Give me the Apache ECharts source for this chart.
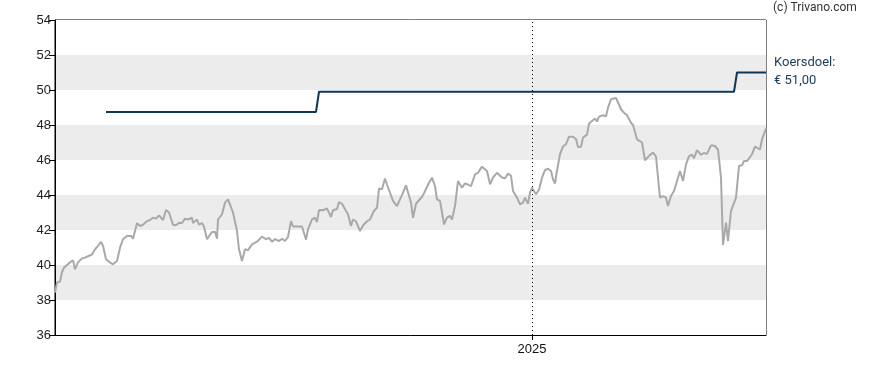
<!DOCTYPE html>
<html>
<head>
<meta charset="utf-8">
<script src="https://cdn.jsdelivr.net/npm/echarts@6/dist/echarts.min.js"></script>
<style>
html,body{margin:0;padding:0;background:#fff;}
#chart{width:888px;height:370px;}
</style>
</head>
<body>
<div id="chart"></div>
<script>
// Time range (start date + number of days shown)
const startYear = 2023, startMonth = 8, startDay = 12; // 2023-09-12
const spanDays = 711;
const yearMarkLabel = '2025';
const yearMark = [2025, 0, 1];

// Y axis ticks
const yMin = 36, yMax = 54, yStep = 2;

// Share price: days since start date, closing value (EUR)
const priceDays = [0,2,4,5,7,9,12,15,18,20,23,27,30,33,37,40,43,46,48,51,54,58,62,65,68,72,76,78,80,82,85,88,92,95,98,101,104,106,108,111,114,118,121,124,127,130,133,137,138,142,144,147,149,152,153,157,160,162,163,167,170,173,175,178,182,184,187,190,193,197,202,207,211,214,217,220,224,227,230,233,236,238,242,247,251,253,257,260,262,264,268,272,273,276,278,282,284,287,291,293,296,298,301,305,308,312,315,319,322,324,327,330,332,335,338,342,345,348,351,353,356,358,361,363,367,369,371,374,377,380,382,385,387,389,392,395,397,400,403,407,410,413,416,420,423,427,429,432,435,438,442,444,447,450,453,456,458,462,465,468,470,473,475,477,481,484,487,490,493,496,498,500,502,505,508,511,514,518,521,523,526,528,532,534,537,540,542,544,548,551,553,556,558,561,563,566,569,572,576,578,582,584,587,590,592,595,598,601,603,605,608,611,613,616,619,622,625,628,631,634,637,639,642,646,649,652,654,656,660,663,666,668,671,673,676,678,681,684,687,689,692,694,697,700,702,705,707,711];
const priceValues = [38.42,39.0,39.1,39.05,39.6,39.85,40.0,40.15,40.27,39.75,40.15,40.38,40.42,40.5,40.6,40.9,41.09,41.32,41.1,40.33,40.18,40.04,40.23,40.99,41.47,41.66,41.66,41.5,41.47,42.38,42.23,42.3,42.51,42.57,42.7,42.65,42.84,42.85,42.57,43.14,43.0,42.3,42.27,42.42,42.4,42.65,42.6,42.7,42.4,42.6,42.3,42.4,42.2,41.47,41.4,41.89,41.9,41.5,42.6,42.9,43.56,43.75,43.7,43.0,41.94,40.9,40.23,40.9,40.85,41.18,41.33,41.62,41.47,41.55,41.33,41.48,41.37,41.5,41.37,41.6,42.51,42.2,42.2,42.2,41.45,42.04,42.61,42.7,42.46,43.14,43.13,43.24,43.27,42.74,43.13,43.2,43.6,43.5,43.09,42.9,42.23,42.6,42.5,41.94,42.26,42.5,42.6,43.1,43.27,44.37,44.33,44.94,44.6,44.13,43.66,43.37,43.75,44.13,44.55,44.5,43.56,42.7,43.5,43.56,43.9,44.1,44.0,44.7,44.99,44.5,43.75,43.66,43.75,42.33,42.71,42.8,42.6,43.37,44.8,44.42,44.66,44.6,44.5,45.18,45.27,45.62,45.7,45.37,44.61,45.0,45.27,45.18,45.0,44.96,45.22,45.1,44.23,43.85,43.47,43.56,43.85,43.5,44.13,44.42,44.04,44.3,44.99,45.43,45.5,45.37,44.9,44.66,45.4,46.33,46.77,46.9,47.33,47.33,47.2,46.74,46.76,47.28,47.45,48.08,48.23,48.37,48.2,48.48,48.56,48.5,48.99,49.47,49.47,49.55,49.66,48.9,48.7,48.56,48.13,48.0,47.18,47.1,47.0,45.98,45.94,46.29,46.42,46.2,45.0,43.85,43.94,43.85,43.37,43.94,44.23,44.8,45.37,44.8,45.75,46.22,46.3,46.1,46.56,46.3,46.4,46.35,46.3,46.84,46.8,46.6,44.99,41.14,42.42,41.37,43.09,43.2,43.85,45.66,45.7,45.94,45.94,46.0,46.33,46.77,46.84,46.6,47.18,47.8];

// Analyst price target (koersdoel)
const targetDays = [51,261,264,679,682,711];
const targetValues = [48.75,48.75,49.9,49.9,51.0,51.0];

const sideTitle = '(c) Trivano.com';
const targetLabel = 'Koersdoel:';
const targetValueLabel = '€ 51,00';

const DAY = 86400000;
const t0 = new Date(startYear, startMonth, startDay).getTime();
const toTime = d => t0 + d * DAY;
const priceData = priceDays.map((d, i) => [toTime(d), priceValues[i]]);
const targetData = targetDays.map((d, i) => [toTime(d), targetValues[i]]);
const markTime = new Date(yearMark[0], yearMark[1], yearMark[2]).getTime();

const chart = echarts.init(document.getElementById('chart'), null, {renderer: 'canvas'});
chart.setOption({
  animation: false,
  backgroundColor: '#ffffff',
  grid: {left: 55, top: 20, width: 711, height: 315, show: true, borderColor: '#000', borderWidth: 1, backgroundColor: 'transparent'},
  xAxis: {
    type: 'value',
    min: t0,
    max: toTime(spanDays),
    axisLine: {show: true, lineStyle: {color: '#000', width: 1}},
    axisTick: {show: true, customValues: [markTime], length: 5, lineStyle: {color: '#000'}},
    axisLabel: {show: true, customValues: [markTime], formatter: () => yearMarkLabel, color: '#111', fontSize: 13, fontFamily: 'Liberation Sans', margin: 8},
    splitLine: {show: false}
  },
  yAxis: {
    type: 'value',
    min: yMin, max: yMax, interval: yStep,
    axisLine: {show: true, lineStyle: {color: '#000', width: 1}},
    axisTick: {show: true, length: 6, lineStyle: {color: '#000'}},
    axisLabel: {color: '#222', fontSize: 13, fontFamily: 'Liberation Sans', margin: 4},
    splitLine: {show: false},
    splitArea: {show: true, areaStyle: {color: ['#ffffff', '#ececec']}}
  },
  series: [
    {
      type: 'line',
      data: priceData,
      showSymbol: false,
      lineStyle: {color: '#a9a9a9', width: 2},
      z: 2,
      markLine: {
        silent: true,
        symbol: ['none', 'none'],
        label: {show: false},
        lineStyle: {color: '#000', type: [1, 3], width: 1},
        data: [{xAxis: markTime}]
      }
    },
    {
      type: 'line',
      data: targetData,
      showSymbol: false,
      lineStyle: {color: '#0f3656', width: 2},
      z: 3
    }
  ],
  graphic: [
    {type: 'text', left: 773, top: 2, style: {text: sideTitle, fill: '#333', font: '12px Roboto'}},
    {type: 'text', left: 774, top: 56, style: {text: targetLabel, fill: '#1d3a57', font: '13px Roboto'}},
    {type: 'text', left: 774, top: 74, style: {text: targetValueLabel, fill: '#1d3a57', font: '13px Roboto'}}
  ]
});
</script>
</body>
</html>
